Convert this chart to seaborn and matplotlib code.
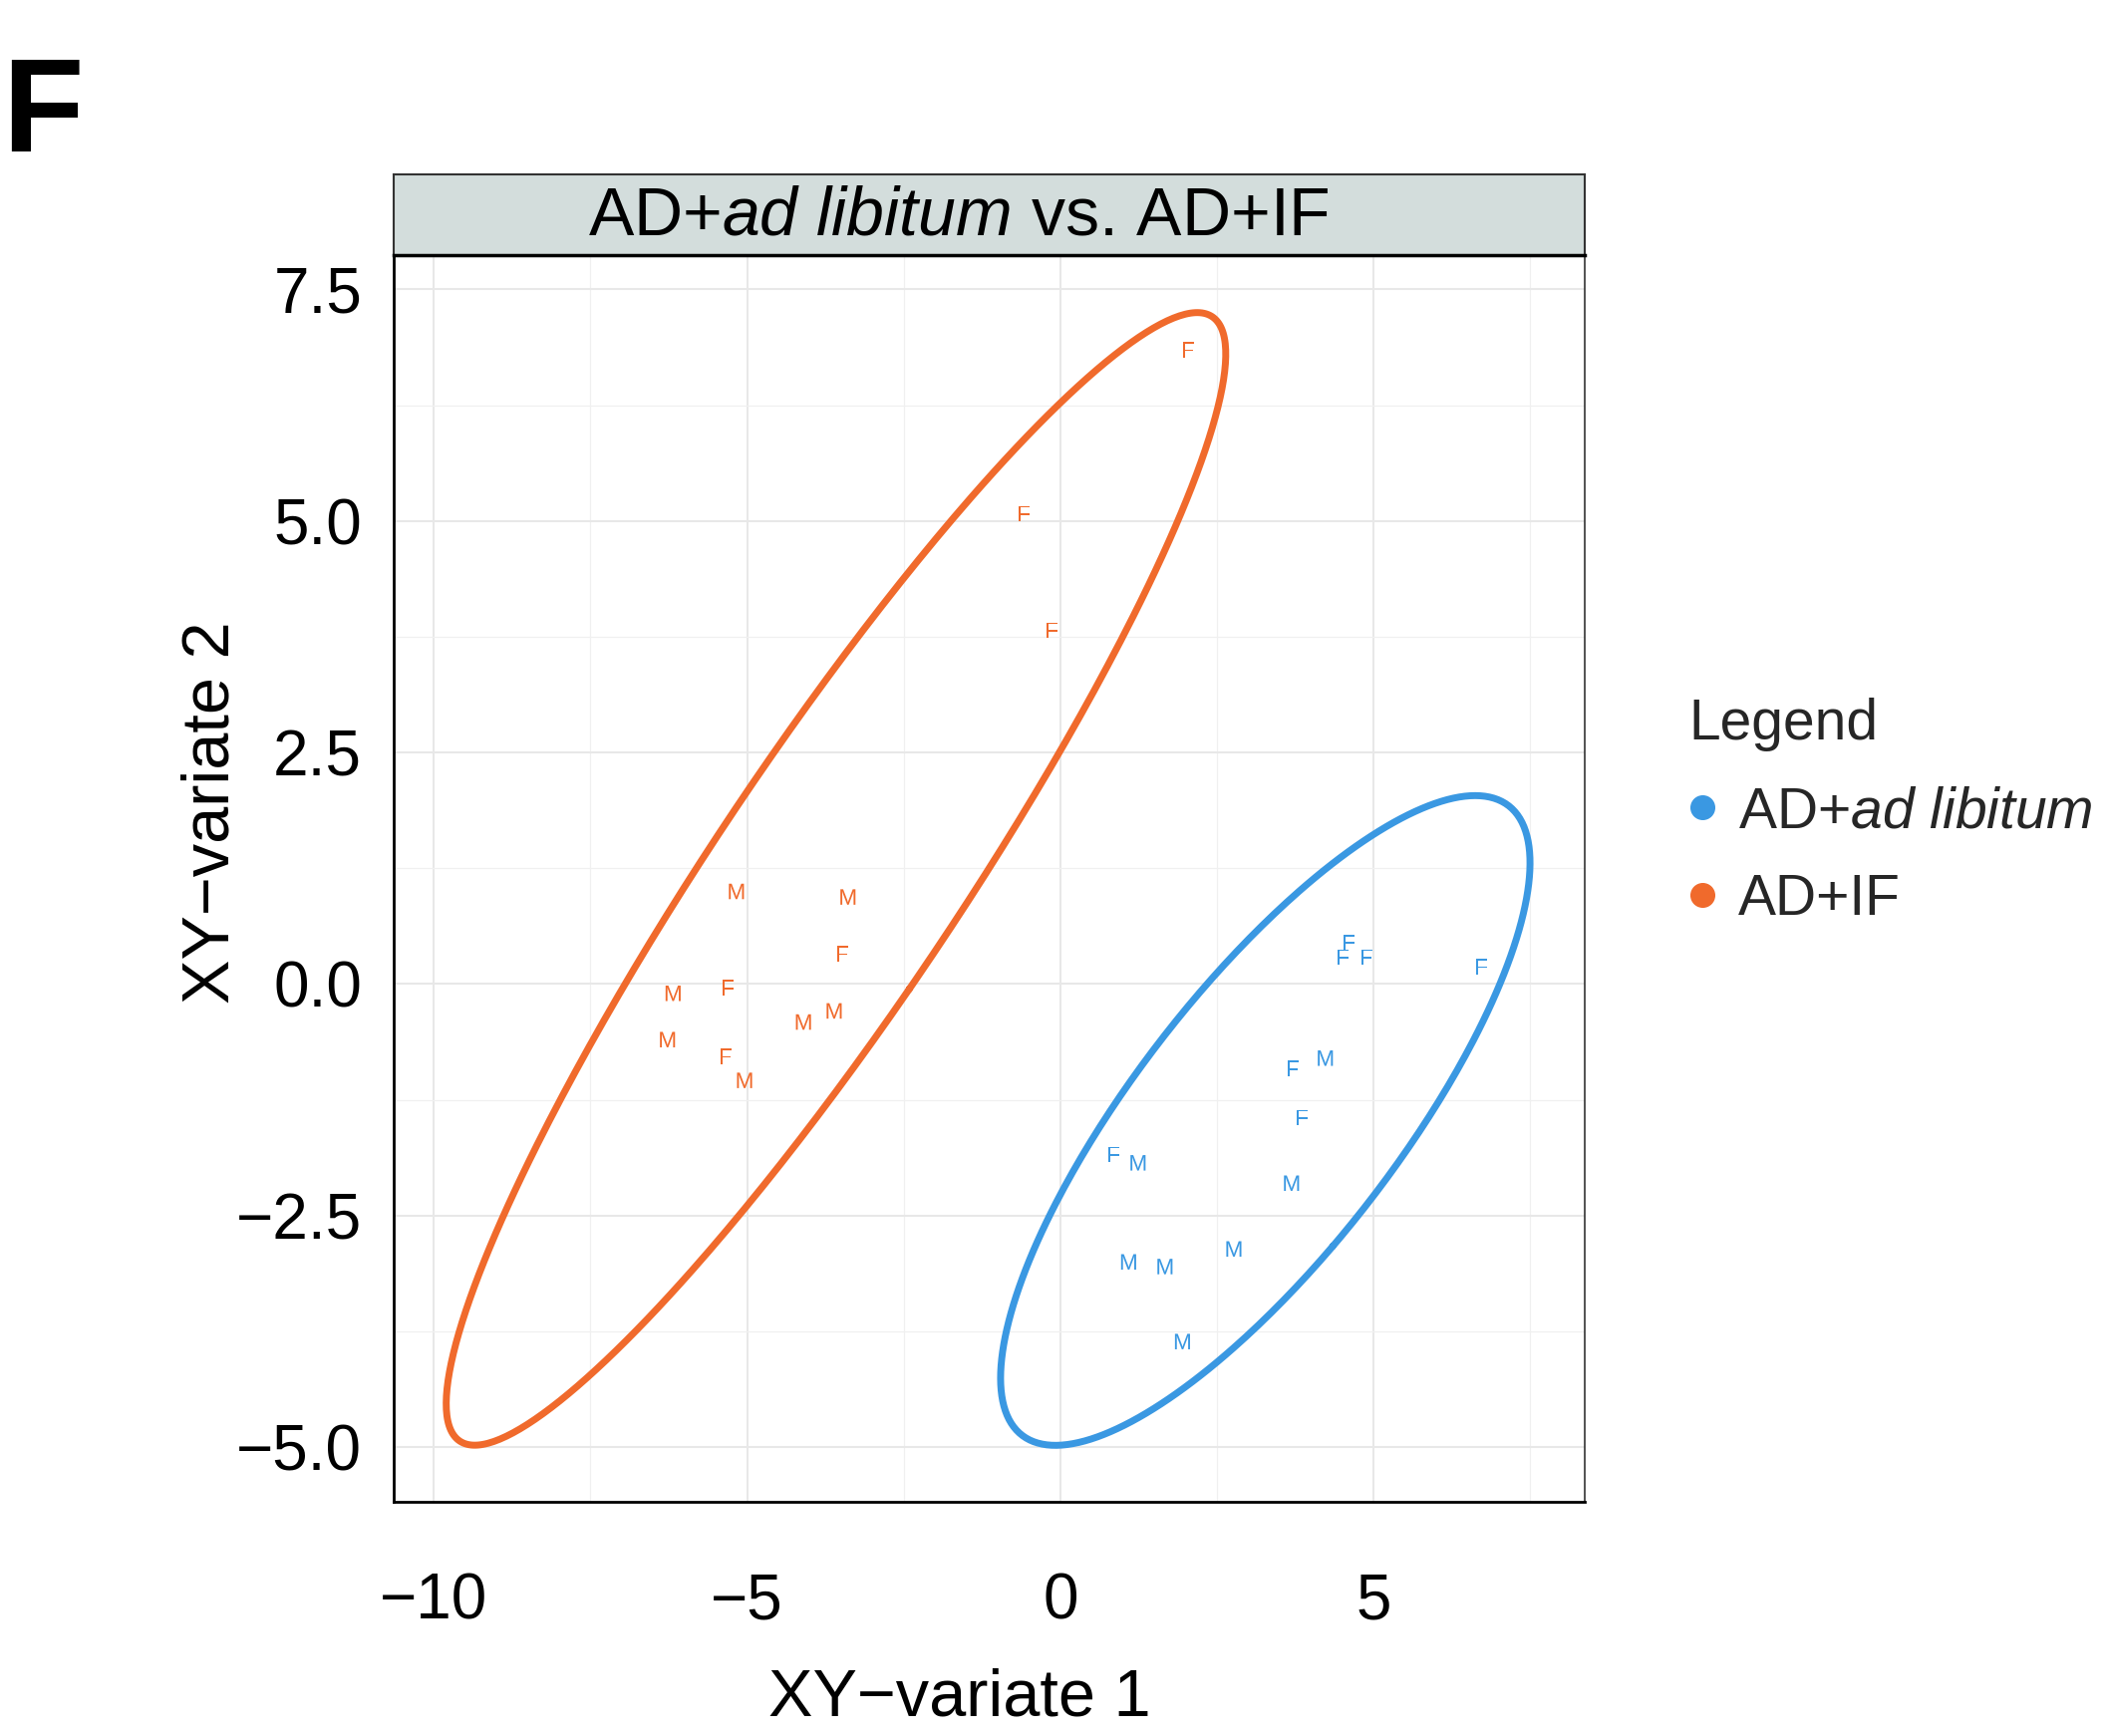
import numpy as np
import pandas as pd
import matplotlib
matplotlib.use("Agg")
import matplotlib.pyplot as plt
from matplotlib.lines import Line2D
from matplotlib.ticker import MultipleLocator
import seaborn as sns

# ---------------- data ----------------
groups = ["AD+ad libitum", "AD+IF"]
colors = ["#3A98E2", "#F06A2C"]

if_x = [2.04, -0.58, -0.13, -5.17, -3.39, -3.48, -5.30, -6.18, -3.61, -4.10, -6.27, -5.34, -5.04]
if_y = [6.85, 5.08, 3.82, 1.00, 0.94, 0.33, -0.04, -0.10, -0.29, -0.41, -0.60, -0.78, -1.04]
if_sex = ["F", "F", "F", "M", "M", "F", "F", "M", "M", "M", "M", "F", "M"]

al_x = [4.61, 4.51, 4.89, 6.72, 4.23, 3.71, 3.86, 0.86, 1.24, 3.69, 2.77, 1.09, 1.67, 1.95]
al_y = [0.45, 0.29, 0.29, 0.19, -0.80, -0.91, -1.44, -1.84, -1.93, -2.15, -2.86, -3.00, -3.05, -3.86]
al_sex = ["F", "F", "F", "F", "M", "F", "F", "F", "M", "M", "M", "M", "M", "M"]

x_ticks = [-10, -5, 0, 5]
y_ticks = [-5.0, -2.5, 0.0, 2.5, 5.0, 7.5]
x_label = "XY\u2212variate 1"
y_label = "XY\u2212variate 2"

df = pd.DataFrame({
    "x": al_x + if_x,
    "y": al_y + if_y,
    "sex": al_sex + if_sex,
    "group": [groups[0]] * len(al_x) + [groups[1]] * len(if_x),
})

# ---------------- style ----------------
sns.set_theme(style="white")
plt.rcParams["font.family"] = ["Liberation Sans", "DejaVu Sans"]
plt.rcParams["mathtext.fontset"] = "custom"
plt.rcParams["mathtext.rm"] = "Liberation Sans"
plt.rcParams["mathtext.it"] = "Liberation Sans:italic"
plt.rcParams["mathtext.sf"] = "Liberation Sans"

W, H = 2115, 1742
fig = plt.figure(figsize=(W / 100, H / 100), dpi=100)
fig.patch.set_facecolor("white")

ax_l, ax_r, ax_t, ax_b = 395, 1590, 256, 1507
ax = fig.add_axes([ax_l / W, 1 - ax_b / H, (ax_r - ax_l) / W, (ax_b - ax_t) / H])
ax.set_facecolor("white")

palette = dict(zip(groups, colors))
sns.scatterplot(data=df, x="x", y="y", hue="group", style="sex",
                palette=palette,
                markers={"M": r"$\mathsf{M}$", "F": r"$\mathsf{F}$"},
                s=125, linewidth=0, legend=False, ax=ax, zorder=3)

# 95% confidence ellipses computed from each group's points
chi = np.sqrt(5.991464547107979)
t = np.linspace(0, 2 * np.pi, 400)
for g, c in zip(groups, colors):
    sub = df[df["group"] == g]
    pts = sub[["x", "y"]].to_numpy()
    mu = pts.mean(axis=0)
    cov = np.cov(pts.T)
    vals, vecs = np.linalg.eigh(cov)
    circ = np.vstack([np.cos(t), np.sin(t)])
    ell = (vecs @ np.diag(np.sqrt(vals)) @ circ) * chi + mu[:, None]
    ax.plot(ell[0], ell[1], color=c, lw=5.0, zorder=2, solid_capstyle="round")

ax.set_xlim(-10.64, 8.37)
ax.set_ylim(-5.59, 7.87)
ax.xaxis.set_minor_locator(MultipleLocator(2.5))
ax.yaxis.set_minor_locator(MultipleLocator(1.25))
ax.set_xticks(x_ticks)
ax.set_yticks(y_ticks)
ax.set_xticklabels([str(v).replace("-", "\u2212") for v in x_ticks])
ax.set_yticklabels([f"{v:.1f}".replace("-", "\u2212") for v in y_ticks])
ax.grid(which="major", color="#E8E8E8", lw=1.5, zorder=0)
ax.grid(which="minor", color="#F0F0F0", lw=0.9, zorder=0)
ax.set_axisbelow(True)

for sp in ax.spines.values():
    sp.set_color("#333333")
    sp.set_linewidth(1.2)
ax.spines["bottom"].set_color("black")
ax.spines["left"].set_color("black")
ax.spines["bottom"].set_linewidth(2.0)
ax.spines["left"].set_linewidth(2.0)

ax.tick_params(axis="both", which="major", length=13, width=2.0, color="black",
               labelsize=46, labelcolor="black", direction="out")
ax.tick_params(axis="x", which="major", pad=38)
ax.tick_params(axis="y", which="major", pad=10)
ax.tick_params(which="minor", length=0)

ax.set_xlabel(x_label, fontsize=48, color="black")
ax.set_ylabel(y_label, fontsize=48, color="black")
ax.xaxis.set_label_coords(0.475, -0.133)
ax.yaxis.set_label_coords(-0.127, 0.553)

# facet strip
strip_top = 175
sax = fig.add_axes([ax_l / W, 1 - ax_t / H, (ax_r - ax_l) / W, (ax_t - strip_top) / H])
sax.set_facecolor("#D3DDDC")
sax.set_xticks([])
sax.set_yticks([])
for sp in sax.spines.values():
    sp.set_color("#333333")
    sp.set_linewidth(1.5)
sax.spines["bottom"].set_linewidth(2.5)
sax.spines["bottom"].set_color("black")
sax.text(0.474, 0.47, r"AD+$\mathit{ad\ libitum}$ vs. AD+IF", transform=sax.transAxes,
         ha="center", va="center", fontsize=49, color="black")

# legend
handles = [Line2D([0], [0], marker="o", linestyle="", markersize=17,
                  markerfacecolor=c, markeredgecolor=c) for c in colors]
labels = [r"AD+$\mathit{ad\ libitum}$", "AD+IF"]
leg = fig.legend(handles, labels, title="Legend", loc="upper left",
                 bbox_to_anchor=(1694 / W, 1 - 700 / H), frameon=False,
                 fontsize=41, title_fontsize=41, handlelength=0.5,
                 handletextpad=0.38, labelspacing=0.6, borderpad=0,
                 borderaxespad=0, alignment="left")

# panel label
fig.text(2 / W, 1 - 152 / H, "F", fontsize=96, fontweight="bold",
         ha="left", va="baseline", color="black")

fig.savefig("out.png", dpi=100)
